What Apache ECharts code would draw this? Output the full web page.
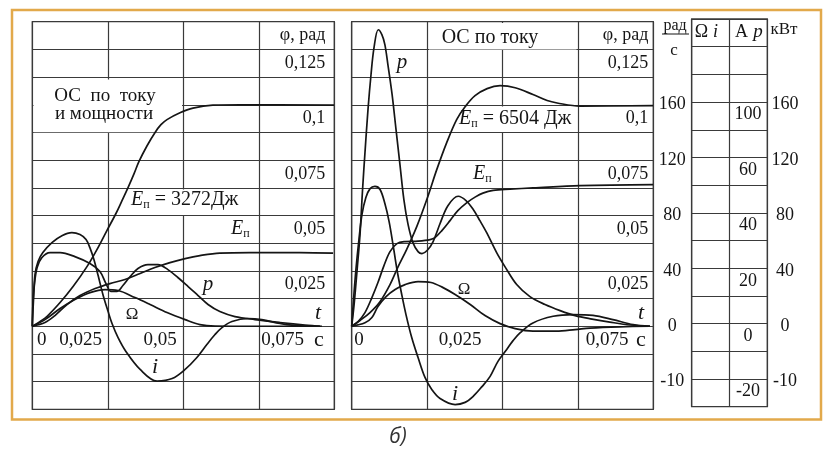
<!DOCTYPE html>
<html><head><meta charset="utf-8">
<script src="https://cdn.jsdelivr.net/npm/echarts@6/dist/echarts.min.js"></script>
<style>html,body{margin:0;padding:0;background:#fff}#c{width:823px;height:450px}</style>
</head><body><div id="c"></div>
<script>
// ---------- data (time in s) ----------
const timeTicks = [0, 0.025, 0.05, 0.075, 0.1];
const phiTicks = [0.1375, 0.125, 0.1, 0.075, 0.05, 0.025];
const phiTickLabels = ['φ, рад', '0,125', '0,1', '0,075', '0,05', '0,025'];
const omegaScaleValues = [160, 120, 80, 40, 0, -40];
const omegaScaleLabels = ['160', '120', '80', '40', '0', '-10'];
const currentScaleValues = [80, 60, 40, 20, 0, -20];
const currentScaleLabels = ['100', '60', '40', '20', '0', '-20'];
const powerScaleValues = [160, 120, 80, 40, 0, -40];
const powerScaleLabels = ['160', '120', '80', '40', '0', '-10'];
const timeLabelsLeft = ['0', '0,025', '0,05', '0,075', 'с'];
const timeLabelsRight = ['0', '0,025', '0,075', 'с'];

// left panel: ОС по току и мощности (φ rad, E J, p kW, Ω rad/s, i A)
const leftPhi = [[0,0],[0.0025,0.0021],[0.0049,0.0045],[0.0092,0.0107],[0.0135,0.0179],[0.0181,0.0269],[0.0214,0.0346],[0.0247,0.0432],[0.0277,0.0509],[0.0297,0.0567],[0.0317,0.0626],[0.0337,0.0689],[0.0353,0.0743],[0.0380,0.0815],[0.0406,0.0874],[0.0426,0.0910],[0.0446,0.0933],[0.0489,0.0964],[0.0532,0.0985],[0.0598,0.0998],[0.0688,0.1000],[0.0999,0.0998]];
const leftEnergy = [[0,0],[0.0042,167],[0.0075,483],[0.0115,979],[0.0158,1386],[0.0208,1701],[0.0257,1927],[0.0307,2108],[0.0357,2379],[0.0406,2649],[0.0456,2875],[0.0506,3055],[0.0555,3190],[0.0621,3303],[0.0721,3326],[0.0886,3326],[0.0996,3303]];
const leftPower = [[0,0],[0.0002,15.7],[0.0007,30.1],[0.0016,42.4],[0.0032,49.7],[0.0059,53.2],[0.0092,53.2],[0.0141,50.3],[0.0191,45.3],[0.0224,39.5],[0.0244,30.8],[0.0261,25.1],[0.0280,25.1],[0.0300,29.4],[0.0324,35.9],[0.0350,41.7],[0.0383,44.5],[0.0416,44.5],[0.0449,40.9],[0.0482,35.2],[0.0516,28.7],[0.0549,22.2],[0.0582,15.7],[0.0621,10.6],[0.0671,7.0],[0.0737,4.8],[0.0820,2.7],[0.0903,0.9],[0.0959,0]];
const leftOmega = [[0,0],[0.0042,4.8],[0.0092,12.8],[0.0141,19.3],[0.0191,24.3],[0.0241,26.5],[0.0284,25.8],[0.0340,20.7],[0.0390,15.7],[0.0446,9.9],[0.0506,4.8],[0.0555,1.2],[0.0605,0.1],[0.0688,0],[0.0952,0]];
const leftCurrent = [[0,0],[0.0004,9.6],[0.0009,18.7],[0.0019,23.4],[0.0035,26.6],[0.0065,30.2],[0.0098,32.7],[0.0131,33.8],[0.0158,33.1],[0.0178,31.3],[0.0191,28.3],[0.0204,24.1],[0.0218,18.3],[0.0234,11.4],[0.0251,5.3],[0.0264,1.0],[0.0284,-4.1],[0.0310,-9.1],[0.0357,-15.6],[0.0413,-19.8],[0.0463,-18.9],[0.0506,-15.6],[0.0545,-11.3],[0.0578,-6.6],[0.0605,-3.0],[0.0628,-0.5],[0.0661,1.7],[0.0714,2.8],[0.0760,2.4],[0.0820,1.0],[0.0886,0.1],[0.0952,0]];

// right panel: ОС по току
const rightPhi = [[0,0],[0.00275,0.0026],[0.00607,0.0062],[0.00938,0.0111],[0.0127,0.0188],[0.0154,0.0269],[0.0182,0.0346],[0.0216,0.0451],[0.0249,0.0572],[0.0282,0.0707],[0.0315,0.0829],[0.0348,0.0933],[0.0376,0.0991],[0.0409,0.1041],[0.0449,0.1073],[0.0492,0.1086],[0.0542,0.1077],[0.0601,0.1046],[0.0648,0.1019],[0.0681,0.1008],[0.0757,0.0994],[0.0999,0.0996]];
const rightEnergy = [[0,0],[0.0021,212],[0.0044,618],[0.0067,1295],[0.0087,1972],[0.0107,2739],[0.0127,3371],[0.0150,3732],[0.0177,3822],[0.0220,3845],[0.0260,3912],[0.0276,4003],[0.0299,4319],[0.0326,4770],[0.0352,5221],[0.0382,5582],[0.0409,5830],[0.0435,6011],[0.0469,6137],[0.0525,6191],[0.0601,6245],[0.0757,6349],[0.0999,6394]];
const rightPower = [[0,0],[0.0008,15.7],[0.0018,40.9],[0.00275,66.2],[0.0036,98.7],[0.0044,125.4],[0.0054,156.5],[0.0064,181.7],[0.0074,201.2],[0.0088,214.2],[0.0100,210.6],[0.0110,203.4],[0.0120,189.0],[0.0134,167.3],[0.0147,142.0],[0.0160,116.8],[0.0173,91.5],[0.0187,73.4],[0.0203,60.4],[0.0220,53.9],[0.0233,52.5],[0.0250,54.7],[0.0270,61.2],[0.0293,74.2],[0.0319,87.1],[0.0353,93.9],[0.0379,90.8],[0.0403,84.3],[0.0425,76.3],[0.0448,67.4],[0.0481,53.0],[0.0508,43.1],[0.0547,30.1],[0.0591,21.4],[0.0641,15.7],[0.0691,11.3],[0.0741,7.7],[0.0797,5.2],[0.0856,3.0],[0.0923,0.9],[0.0989,0]];
const rightOmega = [[0,0],[0.0044,2.5],[0.0067,6.3],[0.0087,14.2],[0.0114,21.4],[0.0144,26.5],[0.0177,30.1],[0.0220,32.3],[0.0263,31.6],[0.0303,27.9],[0.0343,22.9],[0.0393,15.7],[0.0442,7.7],[0.0492,1.9],[0.0542,-1.7],[0.0601,-3.5],[0.0678,-3.5],[0.0741,-2.4],[0.0790,-1.3],[0.0889,-0.4],[0.0989,0]];
const rightCurrent = [[0,0],[0.0006,9.6],[0.0014,20.5],[0.0024,31.3],[0.0034,40.3],[0.0047,46.5],[0.0061,49.7],[0.0077,50.5],[0.0094,49.4],[0.0110,44.3],[0.0124,37.8],[0.0137,29.5],[0.0150,20.5],[0.0166,11.4],[0.0180,4.2],[0.0199,-4.1],[0.0220,-11.3],[0.0243,-18.5],[0.0266,-22.9],[0.0293,-26.1],[0.0343,-28.3],[0.0376,-27.5],[0.0402,-25.4],[0.0432,-21.8],[0.0459,-18.1],[0.0485,-12.7],[0.0514,-8.4],[0.0535,-5.2],[0.0558,-2.4],[0.0601,1.2],[0.0668,3.6],[0.0734,4.2],[0.0800,3.9],[0.0866,2.4],[0.0933,0.6],[0.0989,0]];

// ---------- styling ----------
const SERIF = '"Liberation Serif", "DejaVu Serif", serif';
const INK = '#151515';
const GRIDC = '#3a3a3a';
const chart = echarts.init(document.getElementById('c'), null, {renderer: 'canvas'});

// one grid row = these units; axes span 3 rows below zero and 11 above
const ROW = {omega: 20, phi: 0.0125, energy: 1250, power: 20, current: 10};
const span = u => ({min: -3 * u, max: 11 * u});

function mapLabel(values, labels) {
  return v => { for (let k = 0; k < values.length; k++) if (Math.abs(v - values[k]) < 1e-6) return labels[k]; return ''; };
}
function hiddenY(g, u) { return Object.assign({gridIndex: g, type: 'value', show: false}, span(u)); }
function splitY(g) {
  return Object.assign({gridIndex: g, type: 'value', interval: ROW.omega, axisLine: {show: false}, axisTick: {show: false},
    axisLabel: {show: false}, splitLine: {show: true, lineStyle: {color: GRIDC, width: 1.2}}}, span(ROW.omega));
}
function phiY(g, margin) {
  return Object.assign({gridIndex: g, type: 'value', position: 'right', interval: ROW.phi, axisLine: {show: false}, axisTick: {show: false},
    splitLine: {show: false},
    axisLabel: {inside: true, margin: margin, formatter: mapLabel(phiTicks, phiTickLabels), fontFamily: SERIF, fontSize: 18,
      color: INK, verticalAlign: 'top', lineHeight: 27.7}}, span(ROW.phi));
}
function scaleY(g, u, margin, values, labels, vAlign) {
  return Object.assign({gridIndex: g, type: 'value', position: 'right', interval: u, axisLine: {show: false}, axisTick: {show: false},
    splitLine: {show: false},
    axisLabel: {margin: margin, align: 'center', formatter: mapLabel(values, labels), fontFamily: SERIF, fontSize: 18,
      color: INK, verticalAlign: vAlign, lineHeight: 20, padding: vAlign === 'middle' ? [5, 0, 0, 0] : 0}}, span(u));
}
function xAx(g) {
  return {gridIndex: g, type: 'value', min: timeTicks[0], max: timeTicks[timeTicks.length - 1], interval: timeTicks[1] - timeTicks[0],
    axisLine: {show: false}, axisTick: {show: false}, axisLabel: {show: false},
    splitLine: {show: true, lineStyle: {color: GRIDC, width: 1.2}}};
}
function line(name, data, xi, yi) {
  return {name: name, type: 'line', data: data, xAxisIndex: xi, yAxisIndex: yi, showSymbol: false, smooth: 0.35,
    lineStyle: {color: INK, width: 1.7}, z: 5, silent: true};
}

const yAxes = [
  splitY(0), phiY(0, 9), hiddenY(0, ROW.energy), hiddenY(0, ROW.power), hiddenY(0, ROW.current),             // 0-4
  splitY(1), phiY(1, 5), hiddenY(1, ROW.energy), hiddenY(1, ROW.power), hiddenY(1, ROW.current),             // 5-9
  scaleY(1, ROW.omega, 19, omegaScaleValues, omegaScaleLabels, 'middle'),                                     // 10
  scaleY(1, ROW.current, 94.7, currentScaleValues, currentScaleLabels, 'top'),                                // 11
  scaleY(1, ROW.power, 131.7, powerScaleValues, powerScaleLabels, 'middle'),                                  // 12
  {gridIndex: 2, type: 'value', min: 0, max: 14, interval: 1, axisLine: {show: false}, axisTick: {show: false},
   axisLabel: {show: false}, splitLine: {show: true, lineStyle: {color: GRIDC, width: 1.2}}}                    // 13
];

function txt(x, y, text, o) {
  o = o || {};
  return {type: 'text', x: x, y: y, z: 10, silent: true, style: {text: text, fill: o.fill || INK,
    fontFamily: o.family || SERIF, fontSize: o.size || 18, fontStyle: o.italic ? 'italic' : 'normal',
    fontWeight: o.bold ? 'bold' : 'normal',
    align: o.align || 'center', verticalAlign: 'middle', rich: o.rich}};
}
const eRich = {e: {fontStyle: 'italic', fontSize: 20, fontFamily: SERIF, lineHeight: 22},
               s: {fontSize: 12, fontFamily: SERIF, verticalAlign: 'bottom', lineHeight: 13}};
function cover(x, y, w, h) {
  return {type: 'rect', z: 1, silent: true, shape: {x: x, y: y, width: w, height: h}, style: {fill: '#fff'}};
}

const graphics = [
  {type: 'rect', z: 10, silent: true, shape: {x: 12, y: 10, width: 809, height: 409.5},
   style: {fill: 'none', stroke: '#E2A94B', lineWidth: 2.5}},
  cover(33.5, 79.6, 148.5, 52.6),
  cover(129, 189.6, 120, 25.5),
  cover(429, 23, 147.5, 26.5),
  cover(457, 106.5, 120, 25.5),
  // left panel texts
  txt(105, 96, 'ОС  по  току', {size: 19}),
  txt(104, 114, 'и мощности', {size: 19}),
  txt(131, 200, '{e|E}{s|п} = 3272Дж', {align: 'left', size: 20, rich: eRich}),
  txt(231, 229, '{e|E}{s|п}', {align: 'left', size: 20, rich: eRich}),
  txt(208, 284, 'p', {italic: true, size: 21}),
  txt(132, 315, 'Ω', {size: 17}),
  txt(318, 313, 't', {italic: true, size: 22}),
  txt(155, 367, 'i', {italic: true, size: 22}),
  txt(41.7, 340, timeLabelsLeft[0], {size: 19}),
  txt(80.7, 340, timeLabelsLeft[1], {size: 19}),
  txt(160, 340, timeLabelsLeft[2], {size: 19}),
  txt(282.5, 340, timeLabelsLeft[3], {size: 19}),
  txt(319, 340, timeLabelsLeft[4], {size: 22}),
  // right panel texts
  txt(490, 38, 'ОС по току', {size: 20}),
  txt(402, 62, 'p', {italic: true, size: 21}),
  txt(459, 119, '{e|E}{s|п} = 6504 Дж', {align: 'left', size: 20, rich: eRich}),
  txt(473, 174, '{e|E}{s|п}', {align: 'left', size: 20, rich: eRich}),
  txt(464, 290, 'Ω', {size: 17}),
  txt(641, 313, 't', {italic: true, size: 22}),
  txt(455, 394, 'i', {italic: true, size: 22}),
  txt(359, 340, timeLabelsRight[0], {size: 19}),
  txt(460, 340, timeLabelsRight[1], {size: 19}),
  txt(607, 340, timeLabelsRight[2], {size: 19}),
  txt(641, 340, timeLabelsRight[3], {size: 22}),
  // scale headers
  txt(675, 26, 'рад', {size: 16}),
  {type: 'line', z: 10, silent: true, shape: {x1: 662, y1: 34, x2: 689, y2: 34}, style: {stroke: INK, lineWidth: 1}},
  txt(674, 51, 'с', {size: 17}),
  txt(701.5, 32, 'Ω', {size: 18}),
  txt(715.5, 32, 'i', {italic: true, size: 18}),
  txt(741.5, 32, 'A', {size: 18}),
  txt(758, 32, 'p', {italic: true, size: 19}),
  txt(784, 30, 'кВт', {size: 17}),
  txt(398, 437, 'б)', {italic: true, size: 21, family: '"Open Sans", "DejaVu Sans", sans-serif', fill: '#333'})
];

chart.setOption({
  animation: false,
  backgroundColor: '#fff',
  grid: [
    {left: 32.3, top: 21.7, width: 302, height: 387.6, show: true, borderColor: GRIDC, borderWidth: 1.3, containLabel: false},
    {left: 351.7, top: 21.7, width: 301.6, height: 387.6, show: true, borderColor: GRIDC, borderWidth: 1.3, containLabel: false},
    {left: 691.7, top: 19, width: 75.6, height: 387.7, show: true, borderColor: GRIDC, borderWidth: 1.3, containLabel: false}
  ],
  xAxis: [xAx(0), xAx(1),
    {gridIndex: 2, type: 'value', min: 0, max: 2, interval: 1, axisLine: {show: false}, axisTick: {show: false},
     axisLabel: {show: false}, splitLine: {show: true, lineStyle: {color: GRIDC, width: 1.2}}}],
  yAxis: yAxes,
  series: [
    line('φ', leftPhi, 0, 1), line('Eп', leftEnergy, 0, 2), line('p', leftPower, 0, 3),
    line('Ω', leftOmega, 0, 0), line('i', leftCurrent, 0, 4),
    line('φ', rightPhi, 1, 6), line('Eп', rightEnergy, 1, 7), line('p', rightPower, 1, 8),
    line('Ω', rightOmega, 1, 5), line('i', rightCurrent, 1, 9)
  ],
  graphic: {elements: graphics}
});
</script>
</body></html>
